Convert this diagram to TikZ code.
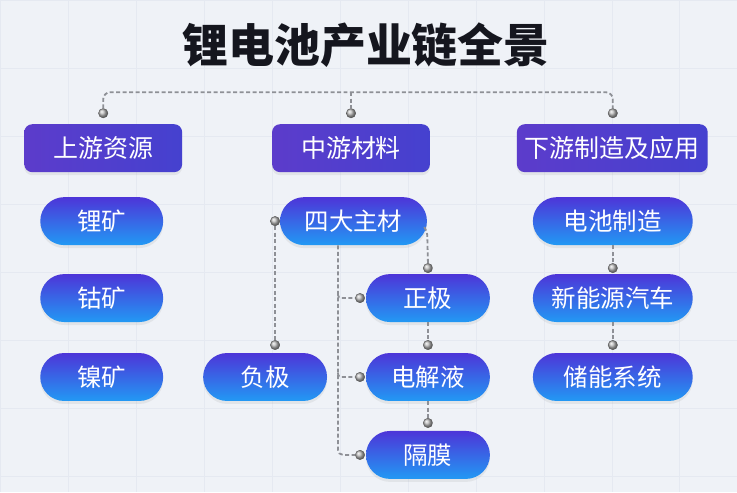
\documentclass[tikz,border=0pt]{standalone}
\usepackage{fontspec}
\setmainfont{Noto Sans CJK SC}
\usetikzlibrary{shadows}
\definecolor{bgc}{HTML}{EFF2F7}
\definecolor{gridc}{HTML}{E5E9F1}
\definecolor{hdrA}{HTML}{5C3CCB}
\definecolor{hdrB}{HTML}{4541CF}
\definecolor{pillA}{HTML}{4D35D8}
\definecolor{pillB}{HTML}{2299F4}
\definecolor{connc}{HTML}{8E9096}
\definecolor{titlec}{HTML}{15161E}
\begin{document}
\begin{tikzpicture}[x=1pt,y=-1pt,
  hdr/.style={rectangle, rounded corners=8pt, minimum height=48pt, inner sep=0pt,
    left color=hdrA, right color=hdrB, text=white,
    font=\fontsize{25}{29}\selectfont,
    drop shadow={opacity=0.12, shadow xshift=0pt, shadow yshift=-3pt}},
  pill/.style={rectangle, rounded corners=24pt, minimum height=48pt, inner sep=0pt,
    top color=pillA, bottom color=pillB, text=white,
    font=\fontsize{24.5}{29}\selectfont,
    drop shadow={opacity=0.12, shadow xshift=0pt, shadow yshift=-3pt}},
  dot/.style={circle, minimum size=9.5pt, inner sep=0pt, ball color=gray!55, draw=gray!60!black, line width=0.3pt},
  conn/.style={draw=connc, line width=1.8pt, dash pattern=on 4pt off 2.5pt}
]
\fill[bgc] (0,0) rectangle (737,492);
\draw[gridc, line width=0.6pt] (0,0) grid[step=68pt] (737,492);
\useasboundingbox (0,0) rectangle (737,492);

\node[text=titlec, font=\fontsize{46}{52}\selectfont\bfseries] (title) at (366,45) {锂电池产业链全景};

% headers
\node[hdr, minimum width=158pt] (up) at (103,148) {上游资源};
\node[hdr, minimum width=158pt] (mid) at (351,148) {中游材料};
\node[hdr, minimum width=191pt] (down) at (612.5,148) {下游制造及应用};

% top bracket
\node[dot] (dt1) at (103,113) {};
\node[dot] (dt2) at (351,113) {};
\node[dot] (dt3) at (613,113) {};
\coordinate (tl) at (103,92);
\coordinate (tr) at (613,92);
\coordinate (tm) at (351,92);
\draw[conn, rounded corners=7pt] (dt1.north) -- (tl) -- (tr) -- (dt3.north);
\draw[conn] (tm) -- (dt2.north);

% upstream
\node[pill, minimum width=123pt] (li) at (101.5,221) {锂矿};
\node[pill, minimum width=123pt] (co) at (101.5,298) {钴矿};
\node[pill, minimum width=123pt] (ni) at (101.5,377) {镍矿};

% midstream
\node[pill, minimum width=147pt] (main) at (353.5,221) {四大主材};
\node[pill, minimum width=124pt] (zj) at (428,298) {正极};
\node[pill, minimum width=124pt] (dj) at (428,377) {电解液};
\node[pill, minimum width=124pt] (gm) at (428,455) {隔膜};
\node[pill, minimum width=124pt] (fj) at (265,377) {负极};

% downstream
\node[pill, minimum width=160pt] (bat) at (613,221) {电池制造};
\node[pill, minimum width=160pt] (ev) at (613,298) {新能源汽车};
\node[pill, minimum width=160pt] (ess) at (613,377) {储能系统};

% midstream connectors
\node[dot] (dl) at (275,221) {};
\node[dot] (dfj) at (275,345) {};
\draw[conn] (dl.south) -- (dfj.north);

\node[dot] (dzj) at (428,268) {};
\draw[conn, rounded corners=4pt] ([xshift=-3pt,yshift=-6pt]main.east) -- ++(3pt,-4pt) -- (dzj.north);
\node[dot] (ddj) at (428,345) {};
\draw[conn] (zj.south) -- (ddj.north);
\node[dot] (dgm) at (428,423) {};
\draw[conn] (dj.south) -- (dgm.north);

\coordinate (mx) at (338,0);
\node[dot] (bz) at (360,298) {};
\node[dot] (bd) at (360,377) {};
\node[dot] (bg) at (360,455) {};
\draw[conn, rounded corners=5pt] (mx |- main.south) -- (mx |- bg) -- (bg.west);
\draw[conn, rounded corners=3pt] ([yshift=4pt]mx |- bz) -- (mx |- bz) -- (bz.west);
\draw[conn, rounded corners=3pt] ([yshift=4pt]mx |- bd) -- (mx |- bd) -- (bd.west);

% downstream connectors
\node[dot] (e1) at (613,268) {};
\node[dot] (e2) at (613,345) {};
\draw[conn] (bat.south) -- (e1.north);
\draw[conn] (ev.south) -- (e2.north);
\end{tikzpicture}
\end{document}
